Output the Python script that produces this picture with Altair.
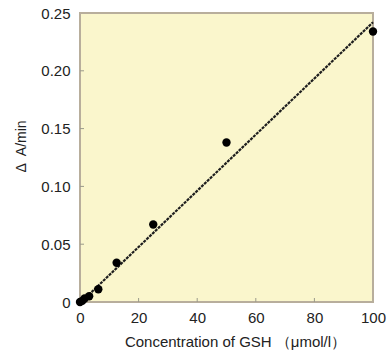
import altair as alt
import pandas as pd

# data
conc = [0, 0.78, 1.56, 3.125, 6.25, 12.5, 25, 50, 100]
rate = [0.000, 0.001, 0.003, 0.005, 0.011, 0.034, 0.067, 0.138, 0.234]
fit_x = [0, 100]
fit_y = [-0.001, 0.242]
x_ticks = [0, 20, 40, 60, 80, 100]
y_ticks = [0, 0.05, 0.10, 0.15, 0.20, 0.25]

pts = pd.DataFrame({"x": conc, "y": rate})
fit = pd.DataFrame({"x": fit_x, "y": fit_y})
xt = pd.DataFrame({"x": x_ticks[1:-1]})
yt = pd.DataFrame({"y": y_ticks[1:-1]})

W, H = 293, 289
FONT = "Liberation Sans"

xscale = alt.Scale(domain=[0, 100], nice=False, zero=False)
yscale = alt.Scale(domain=[0, 0.25], nice=False, zero=False)

xaxis = alt.Axis(values=x_ticks, title="Concentration of GSH （μmol/l）",
                 labelExpr="datum.value", ticks=False, domain=False, grid=False,
                 labelFlush=False, labelOverlap=False,
                 labelFontSize=15, labelPadding=8, labelColor="#222222",
                 titleFontSize=15, titleFontWeight="normal", titleColor="#222222",
                 titlePadding=9, titleX=155, labelFont=FONT, titleFont=FONT)
yaxis = alt.Axis(values=y_ticks, title="Δ\u2002A/min",
                 labelExpr="datum.value == 0 ? '0' : format(datum.value, '.2f')",
                 ticks=False, domain=False, grid=False,
                 labelFlush=False, labelOverlap=False,
                 labelFontSize=15, labelPadding=10, labelColor="#222222",
                 titleFontSize=14, titleFontWeight="normal", titleColor="#222222",
                 titlePadding=12, titleY=133, labelFont=FONT, titleFont=FONT)

line = alt.Chart(fit).mark_line(color="#1e1e1e", strokeWidth=2.2, strokeDash=[3, 1]).encode(
    x=alt.X("x:Q", scale=xscale, axis=xaxis),
    y=alt.Y("y:Q", scale=yscale, axis=yaxis),
)
points = alt.Chart(pts).mark_circle(color="#000000", opacity=1, size=70).encode(
    x=alt.X("x:Q", scale=xscale),
    y=alt.Y("y:Q", scale=yscale),
)
xtick_marks = alt.Chart(xt).mark_rule(color="#9a9a8a", strokeWidth=1).encode(
    x=alt.X("x:Q", scale=xscale),
    y=alt.value(H),
    y2=alt.value(H - 4),
)
ytick_marks = alt.Chart(yt).mark_rule(color="#9a9a8a", strokeWidth=1).encode(
    y=alt.Y("y:Q", scale=yscale),
    x=alt.value(0),
    x2=alt.value(4),
)

chart = alt.layer(xtick_marks, ytick_marks, line, points).properties(
    width=W, height=H,
    autosize=alt.AutoSizeParams(type="none"),
    padding={"left": 80, "top": 13, "right": 17, "bottom": 52},
    background="white",
).configure_view(
    fill="#FAF6CC", stroke="#B8AE9C", strokeWidth=2
)

chart.save("out.html", embed_options={"renderer": "svg", "actions": False})
